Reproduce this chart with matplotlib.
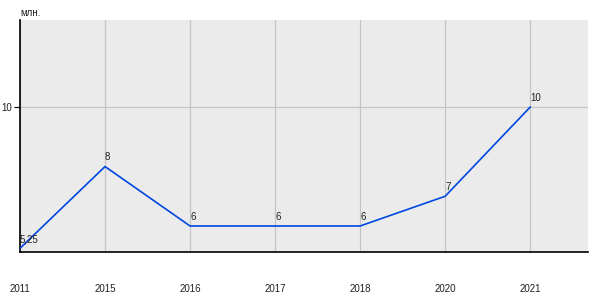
import numpy as np
import matplotlib
matplotlib.use('Agg')
import matplotlib.pyplot as plt

# Datos del gráfico
anios = ['2011', '2015', '2016', '2017', '2018', '2020', '2021']
valores = [5.25, 8, 6, 6, 6, 7, 10]
etiquetas = ['5,25', '8', '6', '6', '6', '7', '10']

plt.rcParams['font.family'] = ['Liberation Sans', 'DejaVu Sans']

fig = plt.figure(figsize=(6, 3), dpi=100)
ax = fig.add_axes([20/600, 48/300, 568/600, 232/300])
ax.set_facecolor('#ebebeb')

x = np.arange(len(anios))
ax.plot(x, valores, color='#0046e0', linewidth=1.2, zorder=3)

for xi, v, t in zip(x, valores, etiquetas):
    ax.annotate(t, (xi, v), xytext=(0, 3), textcoords='offset points',
                ha='left', va='bottom', fontsize=7, color='#222222', zorder=4)

ax.set_xlim(0, 6.68)
ax.set_ylim(5.125, 12.93)
ax.set_xticks(x)
ax.set_xticklabels(anios, fontsize=7, color='#222222')
ax.set_yticks([10])
ax.set_yticklabels(['10'], fontsize=7, color='#222222')
ax.tick_params(axis='x', length=0, pad=23)
ax.tick_params(axis='y', length=4, width=0.8, pad=2)

ax.grid(True, color='#c4c4c4', linewidth=0.9, zorder=1)
ax.set_axisbelow(True)

for s in ['top', 'right']:
    ax.spines[s].set_visible(False)
for s in ['left', 'bottom']:
    ax.spines[s].set_color('black')
    ax.spines[s].set_linewidth(1.2)

fig.text(20/600, 1 - 13/300, 'млн.', fontsize=7, color='#222222', va='center', ha='left')

fig.savefig('out.png', dpi=100, facecolor='white')
